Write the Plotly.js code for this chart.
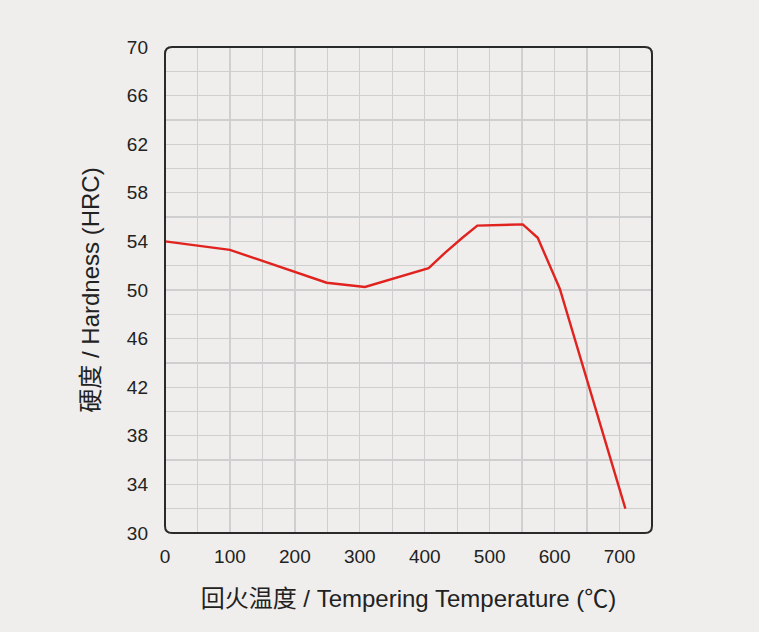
<!DOCTYPE html>
<html><head><meta charset="utf-8">
<script src="https://cdn.plot.ly/plotly-3.0.1.min.js"></script>
<style>html,body{margin:0;padding:0;background:#efeeec;}#c{width:759px;height:632px;}</style>
</head><body><div id="c"></div>
<script>
var temperature = [0, 100, 249, 308, 406, 432, 458, 481, 551, 574, 608, 709];
var hardness = [54.0, 53.3, 50.6, 50.25, 51.8, 53.1, 54.3, 55.3, 55.4, 54.3, 50.1, 32.0];
var xTicks = [0, 100, 200, 300, 400, 500, 600, 700];
var yTicks = [30, 34, 38, 42, 46, 50, 54, 58, 62, 66, 70];

var r = 0.0145;
var framePath = 'M ' + r + ',0 L ' + (1 - r) + ',0 Q 1,0 1,' + r + ' L 1,' + (1 - r) + ' Q 1,1 ' + (1 - r) + ',1 L ' + r + ',1 Q 0,1 0,' + (1 - r) + ' L 0,' + r + ' Q 0,0 ' + r + ',0 Z';

var trace = {
  x: temperature, y: hardness, type: 'scatter', mode: 'lines',
  line: {color: '#e0231f', width: 2.4}, hoverinfo: 'skip'
};
var font = {family: 'Liberation Sans, Arial, sans-serif', color: '#222'};
var gc = '#cfcfcf';
var layout = {
  width: 759, height: 632,
  margin: {l: 165, r: 107, t: 47, b: 99},
  paper_bgcolor: '#efeeec', plot_bgcolor: '#efeeec',
  showlegend: false,
  font: font,
  xaxis: {
    range: [0, 750], tickvals: xTicks, ticktext: xTicks.map(String),
    showgrid: false,
    minor: {dtick: 50, tick0: 0, showgrid: true, gridcolor: gc, gridwidth: 1.3},
    zeroline: false, showline: false, ticks: '', ticklabelstandoff: 10,
    tickfont: {size: 19, family: font.family, color: '#222'},
    title: {text: '回火温度 / Tempering Temperature (℃)', standoff: 24,
      font: {size: 24, family: 'Liberation Sans, Noto Sans CJK SC, sans-serif', color: '#222'}}
  },
  yaxis: {
    range: [30, 70], tickvals: yTicks, ticktext: yTicks.map(String),
    showgrid: false,
    minor: {dtick: 2, tick0: 30, showgrid: true, gridcolor: gc, gridwidth: 1.3},
    zeroline: false, showline: false, ticks: '', ticklabelstandoff: 16,
    tickfont: {size: 19, family: font.family, color: '#222'},
    title: {text: '硬度 / Hardness (HRC)', standoff: 20,
      font: {size: 24, family: 'Liberation Sans, Noto Sans CJK SC, sans-serif', color: '#222'}}
  },
  shapes: [{type: 'path', xref: 'paper', yref: 'paper', path: framePath,
    line: {color: '#2a2a2a', width: 2}, fillcolor: 'rgba(0,0,0,0)', layer: 'above'}]
};
Plotly.newPlot('c', [trace], layout, {staticPlot: true, displayModeBar: false});
</script></body></html>
